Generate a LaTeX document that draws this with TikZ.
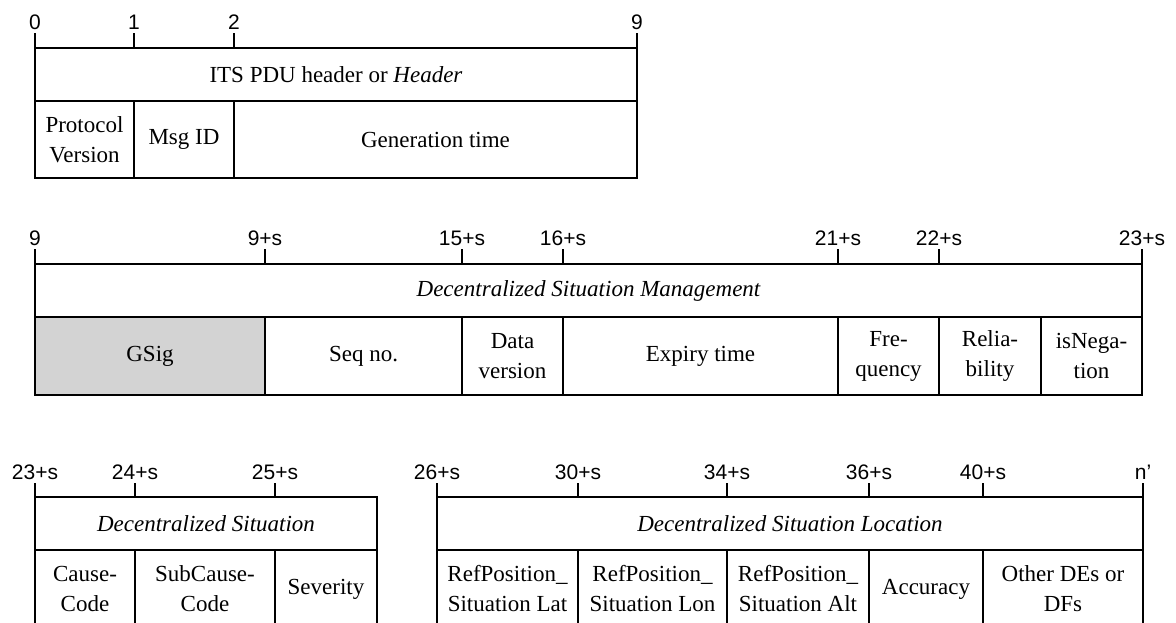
\documentclass[tikz,border=0pt]{standalone}
\usepackage{fontspec}
\setmainfont{Liberation Serif}
\newfontfamily\ticksfont{Liberation Sans}
\usepackage{xcolor}
\definecolor{sigfill}{RGB}{211,211,211}

\begin{document}
\begin{tikzpicture}[x=0.5pt,y=-0.5pt,
	  every node/.style={align=center},
	  field/.style={draw,line width=0.65pt,inner sep=0pt,outer sep=0pt,font=\fontsize{11.5}{15}\selectfont},
	  header/.style={field,minimum height=26.5pt,font=\fontsize{11.5}{15}\selectfont\itshape},
	  row/.style={field,minimum height=39pt},
	  gsig/.style={row,fill=sigfill},
	  tick/.style={line width=1.4pt},
	  ticklabel/.style={anchor=south,inner sep=1pt,font=\ticksfont\fontsize{10.5}{12}\selectfont}]

	  \useasboundingbox (0,0) rectangle (1176,622);
	  \clip (0,0) rectangle (1176,622);

	  % ITS PDU header
	  \node[field,minimum width=301pt,minimum height=26.5pt] (its) at (336,74.5) {ITS PDU header or \textit{Header}};
	  \node[field,minimum width=49.5pt,minimum height=38.5pt] (protver) at (84.5,139.5) {Protocol\\Version};
	  \node[field,minimum width=50pt,minimum height=38.5pt] (msgid) at (184,139.5) {Msg ID};
	  \node[field,minimum width=201.5pt,minimum height=38.5pt] (gentime) at (435.5,139.5) {Generation time};
	  \draw[tick] (35,48) -- (35,33) node[ticklabel] (l0) {0};
	  \draw[tick] (134,48) -- (134,33) node[ticklabel] (l1) {1};
	  \draw[tick] (234,48) -- (234,33) node[ticklabel] (l2) {2};
	  \draw[tick] (637,48) -- (637,33) node[ticklabel] (l9) {9};

	  % management container
	  \node[header,minimum width=553.5pt] (dsm) at (588.5,290.5) {Decentralized Situation Management};
	  \node[gsig,minimum width=115pt] (gsig) at (150,356) {GSig};
	  \node[row,minimum width=98.5pt] (seqno) at (363.5,356) {Seq no.};
	  \node[row,minimum width=50.5pt] (datavers) at (512.5,356) {Data\\version};
	  \node[row,minimum width=137.5pt] (expiry) at (700.5,356) {Expiry time};
	  \node[row,minimum width=50.5pt] (freq) at (888.5,356) {Fre-\\quency};
	  \node[row,minimum width=51pt] (reliab) at (990,356) {Relia-\\bility};
	  \node[row,minimum width=50.5pt] (isneg) at (1091.5,356) {isNega-\\tion};
	  \draw[tick] (35,264) -- (35,249) node[ticklabel] (m9) {9};
	  \draw[tick] (265,264) -- (265,249) node[ticklabel] (m9s) {9+s};
	  \draw[tick] (462,264) -- (462,249) node[ticklabel] (m15s) {15+s};
	  \draw[tick] (563,264) -- (563,249) node[ticklabel] (m16s) {16+s};
	  \draw[tick] (838,264) -- (838,249) node[ticklabel] (m21s) {21+s};
	  \draw[tick] (939,264) -- (939,249) node[ticklabel] (m22s) {22+s};
	  \draw[tick] (1142,264) -- (1142,249) node[ticklabel] (m23s) {23+s};

	  % situation container
	  \node[header,minimum width=171pt] (ds) at (206,523.5) {Decentralized Situation};
	  \node[row,minimum width=50pt] (cause) at (85,589) {Cause-\\Code};
	  \node[row,minimum width=70pt] (subcause) at (205,589) {SubCause-\\Code};
	  \node[row,minimum width=51pt] (severity) at (326,589) {Severity};
	  \draw[tick] (35,497) -- (35,483) node[ticklabel] (b23s) {23+s};
	  \draw[tick] (135,497) -- (135,483) node[ticklabel] (b24s) {24+s};
	  \draw[tick] (275,497) -- (275,483) node[ticklabel] (b25s) {25+s};

	  % location container
	  \node[header,minimum width=353pt] (dsl) at (790,523.5) {Decentralized Situation Location};
	  \node[row,minimum width=70.5pt] (lat) at (507.5,589) {RefPosition\_\\Situation Lat};
	  \node[row,minimum width=74.5pt] (lon) at (652.5,589) {RefPosition\_\\Situation Lon};
	  \node[row,minimum width=71pt] (alt) at (798,589) {RefPosition\_\\Situation Alt};
	  \node[row,minimum width=57pt] (acc) at (926,589) {Accuracy};
	  \node[row,minimum width=80pt] (other) at (1063,589) {Other DEs or\\DFs};
	  \draw[tick] (437,497) -- (437,483) node[ticklabel] (b26s) {26+s};
	  \draw[tick] (578,497) -- (578,483) node[ticklabel] (b30s) {30+s};
	  \draw[tick] (727,497) -- (727,483) node[ticklabel] (b34s) {34+s};
	  \draw[tick] (869,497) -- (869,483) node[ticklabel] (b36s) {36+s};
	  \draw[tick] (983,497) -- (983,483) node[ticklabel] (b40s) {40+s};
	  \draw[tick] (1143,497) -- (1143,483) node[ticklabel] (bn) {n’};
\end{tikzpicture}
\end{document}
